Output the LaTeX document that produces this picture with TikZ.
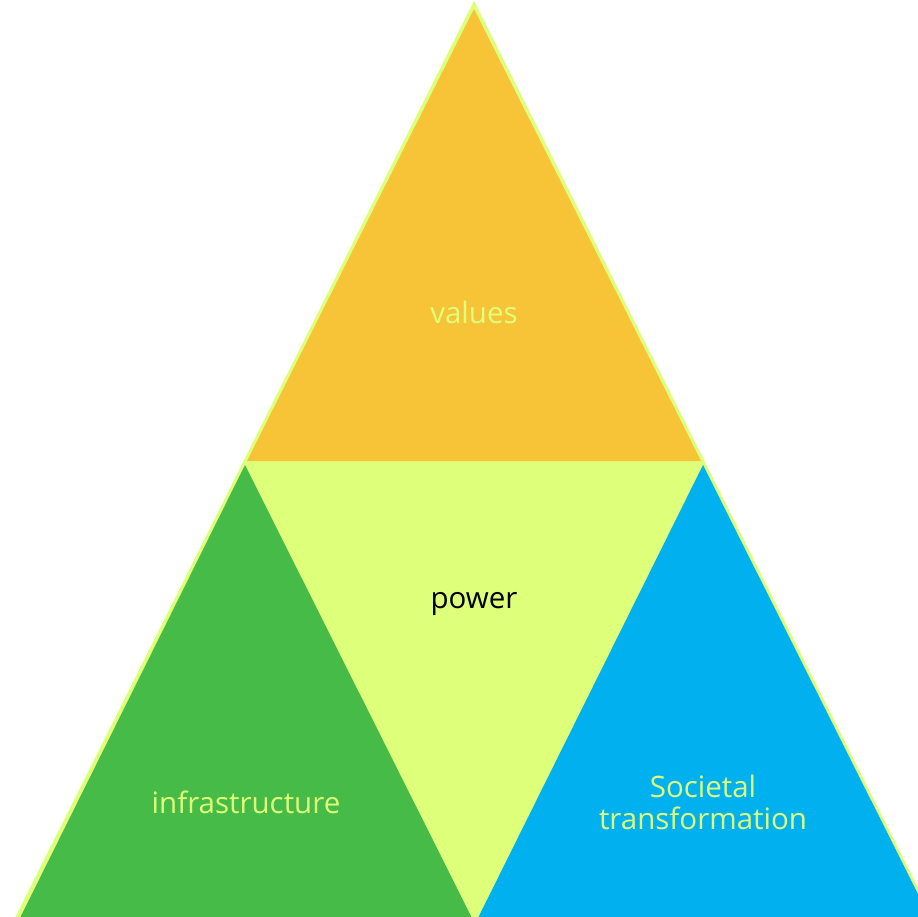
\documentclass[tikz,border=0pt]{standalone}
\usepackage{fontspec}
\setmainfont{Open Sans}
\definecolor{lime}{HTML}{DEFF7A}
\definecolor{orangeT}{HTML}{F8C437}
\definecolor{greenT}{HTML}{46BB47}
\definecolor{blueT}{HTML}{00B0EF}
\tikzset{
  lbl/.style={font=\fontsize{29.5}{32}\selectfont, text=lime, align=center, inner sep=0pt, anchor=base},
  dark/.style={text=black}
}
\begin{document}
\begin{tikzpicture}[x=1pt,y=-1pt]
\useasboundingbox (0,0) rectangle (918,916);
\clip (0,0) rectangle (918,916);
\fill[white] (0,0) rectangle (918,916);
% outer triangle
\filldraw[fill=lime, draw=lime, line width=3pt, line join=miter] (474,4) -- (17,917) -- (931,917) -- cycle;
% values
\fill[orangeT] (474,9) -- (247,461) -- (701,461) -- cycle;
% infrastructure
\fill[greenT] (245,465) -- (20,918) -- (472,918) -- cycle;
% societal transformation
\fill[blueT] (703,465) -- (478,918) -- (930,918) -- cycle;
\node[lbl] (values) at (474,323) {values};
\node[lbl, dark] (power) at (474,608) {power};
\node[lbl] (infra) at (246,813) {infrastructure};
\node[lbl] (soc) at (703,829) {Societal\\transformation};
\end{tikzpicture}
\end{document}
